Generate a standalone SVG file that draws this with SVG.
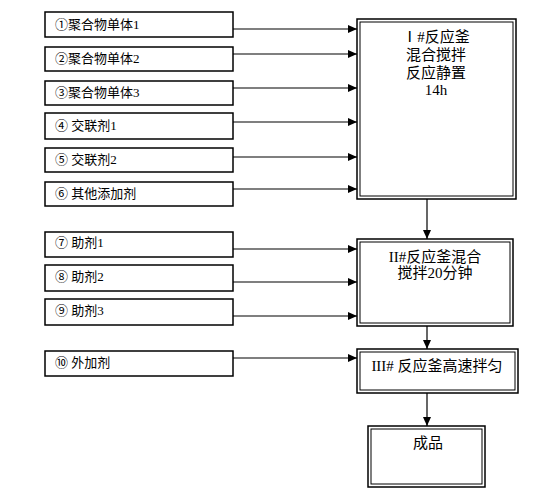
<svg xmlns="http://www.w3.org/2000/svg" width="549" height="504" viewBox="0 0 549 504">
<style>
.box{fill:#fff;stroke:#000;stroke-width:1.5}
.dbl{fill:none;stroke:#000;stroke-width:1}
.t{font-family:"Liberation Serif","Noto Sans CJK SC",serif;font-size:13px;fill:#000}
.c{font-family:"Liberation Serif","Noto Sans CJK SC",serif;font-size:15px;fill:#000;text-anchor:middle}
.ln{stroke:#000;stroke-width:1.2;fill:none;marker-end:url(#ah)}
</style>
<defs>
<marker id="ah" markerWidth="10" markerHeight="8" refX="9" refY="4" orient="auto" markerUnits="userSpaceOnUse">
<path d="M0,0 L9,4 L0,8 Z" fill="#000"/>
</marker>
</defs>
<rect width="549" height="504" fill="#fff"/>
<g id="connectors">
<line class="ln" x1="233" y1="29" x2="357" y2="29"/>
<line class="ln" x1="233" y1="54" x2="357" y2="54"/>
<line class="ln" x1="233" y1="88" x2="357" y2="88"/>
<line class="ln" x1="233" y1="122" x2="357" y2="122"/>
<line class="ln" x1="233" y1="157" x2="357" y2="157"/>
<line class="ln" x1="233" y1="189" x2="357" y2="189"/>
<line class="ln" x1="233" y1="249" x2="357" y2="249"/>
<line class="ln" x1="233" y1="282" x2="357" y2="282"/>
<line class="ln" x1="233" y1="316" x2="357" y2="316"/>
<line class="ln" x1="233" y1="358" x2="357" y2="358"/>
<line class="ln" x1="427" y1="199" x2="427" y2="239"/>
<line class="ln" x1="427" y1="326" x2="427" y2="349"/>
<line class="ln" x1="427" y1="393" x2="427" y2="426"/>
</g>
<g id="n1"><rect class="box" x="45" y="12" width="188" height="25"/><text class="t" x="55" y="29">①聚合物单体1</text></g>
<g id="n2"><rect class="box" x="45" y="47" width="188" height="24"/><text class="t" x="55" y="63">②聚合物单体2</text></g>
<g id="n3"><rect class="box" x="45" y="81" width="188" height="24"/><text class="t" x="55" y="97">③聚合物单体3</text></g>
<g id="n4"><rect class="box" x="45" y="113" width="188" height="26"/><text class="t" x="55" y="130">④ 交联剂1</text></g>
<g id="n5"><rect class="box" x="45" y="148" width="188" height="24"/><text class="t" x="55" y="164">⑤ 交联剂2</text></g>
<g id="n6"><rect class="box" x="45" y="182" width="188" height="24"/><text class="t" x="55" y="198">⑥ 其他添加剂</text></g>
<g id="n7"><rect class="box" x="45" y="232" width="188" height="25"/><text class="t" x="55" y="247">⑦ 助剂1</text></g>
<g id="n8"><rect class="box" x="45" y="265" width="188" height="26"/><text class="t" x="55" y="281">⑧ 助剂2</text></g>
<g id="n9"><rect class="box" x="45" y="299" width="188" height="26"/><text class="t" x="55" y="315">⑨ 助剂3</text></g>
<g id="n10"><rect class="box" x="45" y="351" width="188" height="25"/><text class="t" x="55" y="367">⑩ 外加剂</text></g>
<g id="reactor1">
<rect class="box" x="357" y="19" width="159" height="180"/>
<rect class="dbl" x="360" y="22" width="153" height="174"/>
<text class="c" x="436" y="42">Ⅰ#反应釜</text>
<text class="c" x="436" y="60">混合搅拌</text>
<text class="c" x="436" y="78">反应静置</text>
<text class="c" x="436" y="95">14h</text>
</g>
<g id="reactor2">
<rect class="box" x="357" y="239" width="156" height="87"/>
<rect class="dbl" x="360" y="242" width="150" height="81"/>
<text class="c" x="435" y="262">II#反应釜混合</text>
<text class="c" x="435" y="278">搅拌20分钟</text>
</g>
<g id="reactor3">
<rect class="box" x="357" y="349" width="161" height="44"/>
<rect class="dbl" x="360" y="352" width="155" height="38"/>
<text class="c" x="437" y="371">III# 反应釜高速拌匀</text>
</g>
<g id="product">
<rect class="box" x="368" y="426" width="117" height="61"/>
<rect class="dbl" x="371" y="429" width="111" height="55"/>
<text class="c" x="428" y="448">成品</text>
</g>
</svg>
